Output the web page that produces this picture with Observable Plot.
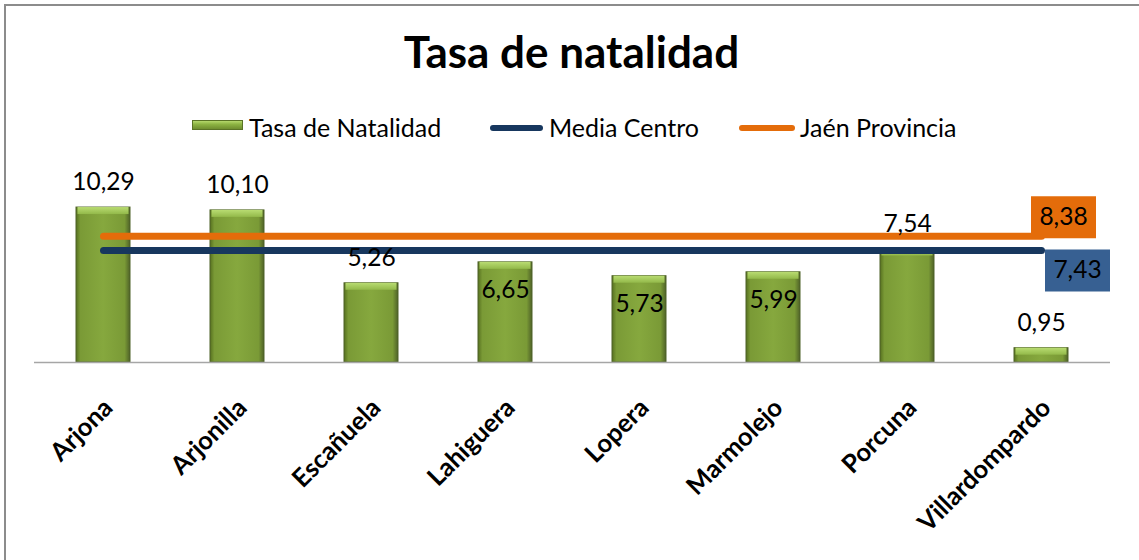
<!DOCTYPE html>
<html><head><meta charset="utf-8">
<script src="https://cdn.jsdelivr.net/npm/d3@7"></script>
<script src="https://cdn.jsdelivr.net/npm/@observablehq/plot@0.6"></script>
<style>
body{margin:0;background:#fff;font-family:Lato,"Open Sans",sans-serif;}
#wrap{position:relative;width:1139px;height:560px;overflow:hidden;background:#fff;}
#frame{position:absolute;left:4px;top:4px;width:1200px;height:600px;border-top:2px solid #8c8c8c;border-left:2px solid #8c8c8c;}
#title{position:absolute;left:0;width:1143px;top:29px;text-align:center;font-weight:700;font-size:44px;line-height:1;color:#000;}
.leg{position:absolute;top:115px;font-size:25px;line-height:1;color:#000;white-space:nowrap;}
.sw{position:absolute;}
#plot{position:absolute;left:0;top:150px;}
</style></head>
<body>
<div id="wrap">
  <div id="frame"></div>
  <div id="title">Tasa de natalidad</div>
  <div class="sw" style="left:192px;top:120px;width:51px;height:10px;background:linear-gradient(#b5d86c,#8db443 40%,#6f8e2f);border:1px solid #5a7326;box-sizing:border-box;"></div>
  <div class="leg" style="left:249px;">Tasa de Natalidad</div>
  <div class="sw" style="left:490px;top:125px;width:53px;height:6px;border-radius:3px;background:#17375E;"></div>
  <div class="leg" style="left:549px;">Media Centro</div>
  <div class="sw" style="left:739px;top:125px;width:56px;height:6px;border-radius:3px;background:#E46C0A;"></div>
  <div class="leg" style="left:800px;">Jaén Provincia</div>
  <div id="plot"></div>
</div>
<script>
const municipios = ["Arjona","Arjonilla","Escañuela","Lahiguera","Lopera","Marmolejo","Porcuna","Villardompardo"];
const tasaNatalidad = [10.29,10.10,5.26,6.65,5.73,5.99,7.54,0.95];
const mediaCentro = 7.43;
const jaenProvincia = 8.38;
const etiquetasDentro = ["Lahiguera","Lopera","Marmolejo"];

const data = municipios.map((m, i) => ({municipio: m, tasa: tasaNatalidad[i]}));
const fmt = v => v.toFixed(2).replace(".", ",");
const ultimo = municipios[municipios.length - 1];

const boxSymbol = {draw(ctx) { ctx.moveTo(-32.5, -21); ctx.lineTo(32.5, -21); ctx.lineTo(32.5, 21); ctx.lineTo(-32.5, 21); ctx.closePath(); }};

const defs = () => {
  const s = d3.create("svg:defs");
  const g1 = s.append("linearGradient").attr("id", "gBar").attr("x1", 0).attr("x2", 1).attr("y1", 0).attr("y2", 0);
  [[0,"#56701f"],[0.08,"#7a9a36"],[0.5,"#86a83e"],[0.9,"#7a9a36"],[1,"#4f6228"]].forEach(([o,c]) => g1.append("stop").attr("offset", o).attr("stop-color", c));
  const g2 = s.append("linearGradient").attr("id", "gBevel").attr("x1", 0).attr("x2", 0).attr("y1", 0).attr("y2", 1);
  [[0,"#b9dc72"],[1,"#93b94a"]].forEach(([o,c]) => g2.append("stop").attr("offset", o).attr("stop-color", c));
  return s.node();
};

const chart = Plot.plot({
  width: 1139,
  height: 410,
  marginLeft: 34,
  marginRight: 29,
  marginTop: 31.3,
  marginBottom: 198,
  x: {type: "band", domain: municipios, paddingInner: 0.6, paddingOuter: 0.3, axis: null},
  y: {domain: [0, 12], axis: null},
  style: {fontFamily: "Lato, 'Open Sans', sans-serif", background: "transparent", overflow: "visible", color: "#000"},
  marks: [
    defs,
    Plot.barY(data, {x: "municipio", y: "tasa", fill: "url(#gBar)", stroke: "#4f6228", strokeWidth: 1}),
    Plot.barY(data, {x: "municipio", y1: "tasa", y2: "tasa", insetBottom: -7, insetLeft: 1.5, insetRight: 1.5, fill: "url(#gBevel)"}),
    Plot.ruleY([0], {stroke: "#a6a6a6", strokeWidth: 1.5}),
    Plot.axisX({tickSize: 0, tickPadding: 41, tickRotate: -45, textAnchor: "end", lineAnchor: "middle", dx: 5, fontSize: 25.5, fontWeight: "bold", label: null}),
    Plot.lineY(municipios, {x: d => d, y: () => jaenProvincia, stroke: "#E46C0A", strokeWidth: 7, strokeLinecap: "round"}),
    Plot.lineY(municipios, {x: d => d, y: () => mediaCentro, stroke: "#17375E", strokeWidth: 7, strokeLinecap: "round"}),
    Plot.text(data.filter(d => !etiquetasDentro.includes(d.municipio)), {x: "municipio", y: "tasa", text: d => fmt(d.tasa), dy: -25, fontSize: 24.5, fill: "#000"}),
    Plot.text(data.filter(d => etiquetasDentro.includes(d.municipio)), {x: "municipio", y: "tasa", text: d => fmt(d.tasa), dy: 28, fontSize: 24.5, fill: "#000"}),
    Plot.dot([jaenProvincia], {x: () => ultimo, y: d => d, symbol: boxSymbol, fill: "#E46C0A", stroke: null, dx: 22, dy: -19}),
    Plot.text([jaenProvincia], {x: () => ultimo, y: d => d, text: d => fmt(d), dx: 22, dy: -19, fontSize: 24.5, fill: "#000"}),
    Plot.dot([mediaCentro], {x: () => ultimo, y: d => d, symbol: boxSymbol, fill: "#376092", stroke: null, dx: 36, dy: 20}),
    Plot.text([mediaCentro], {x: () => ultimo, y: d => d, text: d => fmt(d), dx: 36, dy: 20, fontSize: 24.5, fill: "#000"})
  ]
});
document.getElementById("plot").appendChild(chart);
</script>
</body></html>
